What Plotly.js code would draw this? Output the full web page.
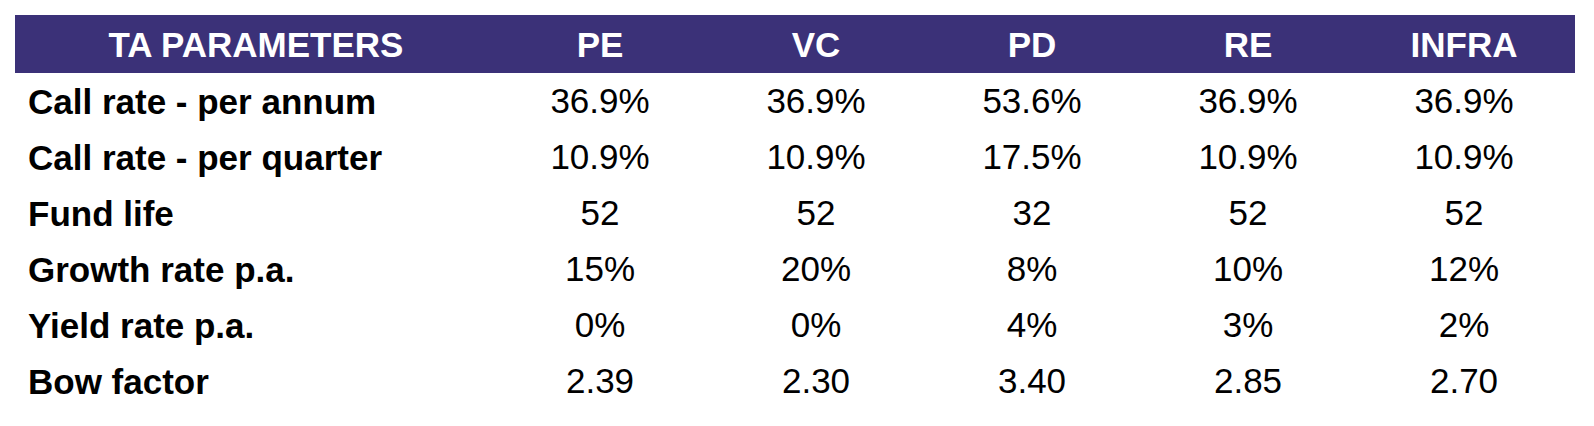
<!DOCTYPE html>
<html>
<head>
<meta charset="utf-8">
<script src="https://cdn.plot.ly/plotly-3.0.1.min.js"></script>
<style>html,body{margin:0;padding:0;background:#fff;}#chart{width:1594px;height:426px;}</style>
</head>
<body>
<div id="chart"></div>
<script>
var headerLabel = "TA PARAMETERS";
var strategies = ["PE", "VC", "PD", "RE", "INFRA"];
var parameters = ["Call rate - per annum", "Call rate - per quarter", "Fund life", "Growth rate p.a.", "Yield rate p.a.", "Bow factor"];
var PE    = ["36.9%", "10.9%", "52", "15%", "0%", "2.39"];
var VC    = ["36.9%", "10.9%", "52", "20%", "0%", "2.30"];
var PD    = ["53.6%", "17.5%", "32", "8%", "4%", "3.40"];
var RE    = ["36.9%", "10.9%", "52", "10%", "3%", "2.85"];
var INFRA = ["36.9%", "10.9%", "52", "12%", "2%", "2.70"];

var bold = function (s) { return "<b>" + s + "</b>"; };

var W = 1594, H = 426;
var headColor = "#3b3178";
var FONT = "Liberation Sans, Arial, sans-serif";
var clear = "rgba(0,0,0,0)";
var yDom = [0, 1 - 17 / H];

function makeTable(xPx, widths, headVals, cellVals, align, headH) {
  return {
    type: "table",
    domain: {x: [xPx[0] / W, xPx[1] / W], y: yDom},
    columnwidth: widths,
    header: {
      values: headVals,
      align: "center",
      height: headH,
      fill: {color: clear},
      line: {width: 0, color: clear},
      font: {family: FONT, size: 35, color: "#ffffff"}
    },
    cells: {
      values: cellVals,
      align: align,
      height: 56,
      fill: {color: clear},
      line: {width: 0, color: clear},
      font: {family: FONT, size: 35, color: "#000000"}
    }
  };
}

var labelTable = makeTable([20, 492], [472], [bold(headerLabel)], [parameters.map(bold)], "left", 57);
var valueTable = makeTable([492, 1572], [216, 216, 216, 216, 216], strategies.map(bold),
  [PE, VC, PD, RE, INFRA], "center", 62);

Plotly.newPlot("chart", [labelTable, valueTable], {
  width: W, height: H,
  margin: {l: 0, r: 0, t: 0, b: 0},
  paper_bgcolor: "#ffffff",
  showlegend: false,
  shapes: [{
    type: "rect", xref: "paper", yref: "paper", layer: "below",
    x0: 15 / W, x1: 1575 / W, y0: 1 - 73 / H, y1: 1 - 15 / H,
    fillcolor: headColor, line: {width: 0}
  }]
}, {displayModeBar: false, staticPlot: true});
</script>
</body>
</html>
